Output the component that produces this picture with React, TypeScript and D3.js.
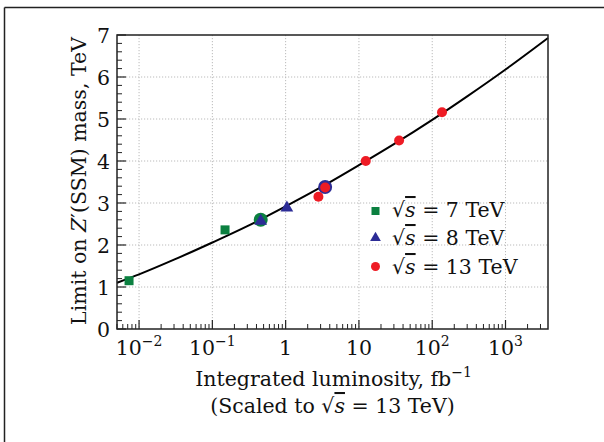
import React from "react";
import * as d3 from "d3";

const curveLumi = [0.005, 0.01, 0.03, 0.1, 0.3, 1, 3, 10, 30, 100, 300, 1000, 3800];
const curveMass = [1.1, 1.3, 1.65, 2.06, 2.45, 2.92, 3.37, 3.9, 4.4, 4.98, 5.54, 6.18, 6.93];

const lumi7 = [0.0073, 0.149];
const mass7 = [1.15, 2.36];
const lumi8 = [0.457, 1.04];
const mass8 = [2.595, 2.91];
const lumi13 = [2.8, 3.46, 12.4, 35.3, 136];
const mass13 = [3.15, 3.37, 4.0, 4.49, 5.16];
// combined (encircled) points
const ring7Lumi = [0.457];
const ring7Mass = [2.6];
const ring8Lumi = [3.46];
const ring8Mass = [3.38];

const xMajor = [0.01, 0.1, 1, 10, 100, 1000];
const xMajorLabels = [["10", "−2"], ["10", "−1"], ["1", ""], ["10", ""], ["10", "2"], ["10", "3"]];
const yMajor = [0, 1, 2, 3, 4, 5, 6, 7];
const legendLabels = ["7", "8", "13"];

const GREEN = "#0b8040";
const BLUE = "#2c2c96";
const RED = "#ee1c25";

export default function App() {
  const W = 604, H = 442;
  const L = 117, R = 548, T = 35, B = 329;
  const x = d3.scaleLog().domain([0.005, 3800]).range([L, R]);
  const y = d3.scaleLinear().domain([0, 7]).range([B, T]);
  const font = '"DejaVu Serif", "Liberation Serif", serif';
  const fs = 20.5;
  const sup = 14;

  const minorX: number[] = [];
  for (let e = -3; e <= 3; e++) {
    for (let k = 2; k <= 9; k++) {
      const v = k * Math.pow(10, e);
      if (v >= 0.005 && v <= 3800) minorX.push(v);
    }
  }
  const minorY = d3.range(0, 7.001, 0.2).filter((v) => Math.abs(v - Math.round(v)) > 1e-6);

  const line = d3
    .line<number>()
    .x((d, i) => x(curveLumi[i]))
    .y((d) => y(d))
    .curve(d3.curveMonotoneX);

  const tri = d3.symbol().type(d3.symbolTriangle);

  const sqrtS = (rest: string) => (
    <>
      <tspan>√</tspan>
      <tspan fontStyle="italic" style={{ textDecoration: "overline" }}>s</tspan>
      <tspan>{rest}</tspan>
    </>
  );

  const txt = { fontFamily: font, fill: "#111", fontWeight: 300 } as React.CSSProperties;

  return (
    <svg width={W} height={H} style={{ position: "absolute", left: 0, top: 0 }}>
      <rect x={0} y={0} width={W} height={H} fill="white" />
      {/* outer frame */}
      <line x1={4.5} y1={7.5} x2={W} y2={7.5} stroke="#222" strokeWidth={1.5} />
      <line x1={4.5} y1={7.5} x2={4.5} y2={H} stroke="#222" strokeWidth={1.5} />

      {/* grid */}
      {xMajor.map((v) => (
        <line key={"gx" + v} x1={x(v)} x2={x(v)} y1={T} y2={B} stroke="#bbb" strokeWidth={1} strokeDasharray="1.2,1.8" />
      ))}
      {yMajor.slice(1, 7).map((v) => (
        <line key={"gy" + v} x1={L} x2={R} y1={y(v)} y2={y(v)} stroke="#bbb" strokeWidth={1} strokeDasharray="1.2,1.8" />
      ))}

      {/* ticks */}
      {xMajor.map((v) => (
        <line key={"tx" + v} x1={x(v)} x2={x(v)} y1={B} y2={B - 9} stroke="#222" strokeWidth={1.2} />
      ))}
      {minorX.map((v) => (
        <line key={"mx" + v} x1={x(v)} x2={x(v)} y1={B} y2={B - 5} stroke="#222" strokeWidth={1} />
      ))}
      {yMajor.map((v) => (
        <line key={"ty" + v} x1={L} x2={L + 9} y1={y(v)} y2={y(v)} stroke="#222" strokeWidth={1.2} />
      ))}
      {minorY.map((v) => (
        <line key={"my" + v} x1={L} x2={L + 5} y1={y(v)} y2={y(v)} stroke="#222" strokeWidth={1} />
      ))}

      {/* curve */}
      <path d={line(curveMass) || ""} fill="none" stroke="black" strokeWidth={2} />

      {/* ring markers */}
      {ring7Lumi.map((v, i) => (
        <circle key={"r7" + i} cx={x(v)} cy={y(ring7Mass[i])} r={7} fill={GREEN} />
      ))}
      {ring8Lumi.map((v, i) => (
        <circle key={"r8" + i} cx={x(v)} cy={y(ring8Mass[i])} r={7} fill={BLUE} />
      ))}

      {/* data */}
      {lumi7.map((v, i) => (
        <rect key={"s7" + i} x={x(v) - 4.5} y={y(mass7[i]) - 4.5} width={9} height={9} fill={GREEN} />
      ))}
      {lumi8.map((v, i) => (
        <path key={"s8" + i} d={tri.size(70)() || ""} transform={`translate(${x(v)},${y(mass8[i]) + 1})`} fill={BLUE} />
      ))}
      {lumi13.map((v, i) => (
        <circle key={"s13" + i} cx={x(v)} cy={y(mass13[i])} r={5} fill={RED} />
      ))}

      {/* frame */}
      <rect x={L} y={T} width={R - L} height={B - T} fill="none" stroke="#222" strokeWidth={1.5} />

      {/* tick labels */}
      {xMajor.map((v, i) => (
        <text key={"lx" + v} x={x(v)} y={355} textAnchor="middle" fontSize={fs} style={txt}>
          {xMajorLabels[i][0]}
          {xMajorLabels[i][1] && (
            <tspan dy={-9} fontSize={sup}>{xMajorLabels[i][1]}</tspan>
          )}
        </text>
      ))}
      {yMajor.map((v) => (
        <text key={"ly" + v} x={110} y={y(v) + 7.5} textAnchor="end" fontSize={fs} style={txt}>
          {v}
        </text>
      ))}

      {/* axis labels */}
      <text x={(L + R) / 2 + 1} y={386} textAnchor="middle" fontSize={fs} style={txt}>
        Integrated luminosity, fb<tspan dy={-9} fontSize={sup}>−1</tspan>
      </text>
      <text x={(L + R) / 2} y={413} textAnchor="middle" fontSize={fs} style={txt}>
        (Scaled to {sqrtS(" = 13 TeV)")}
      </text>
      <text transform={`translate(86,181) rotate(-90)`} textAnchor="middle" fontSize={fs} style={txt}>
        Limit on <tspan fontStyle="italic">Z</tspan>′(SSM) mass, TeV
      </text>

      {/* legend */}
      <rect x={375.5 - 4} y={211 - 4} width={8} height={8} fill={GREEN} />
      <path d={d3.symbol().type(d3.symbolTriangle).size(50)() || ""} transform={`translate(375.5,238)`} fill={BLUE} />
      <circle cx={375.5} cy={266.5} r={4.5} fill={RED} />
      {legendLabels.map((lab, i) => (
        <text key={"lg" + i} x={392} y={[217, 245, 274][i]} fontSize={fs} style={txt}>
          {sqrtS(` = ${lab} TeV`)}
        </text>
      ))}
    </svg>
  );
}
